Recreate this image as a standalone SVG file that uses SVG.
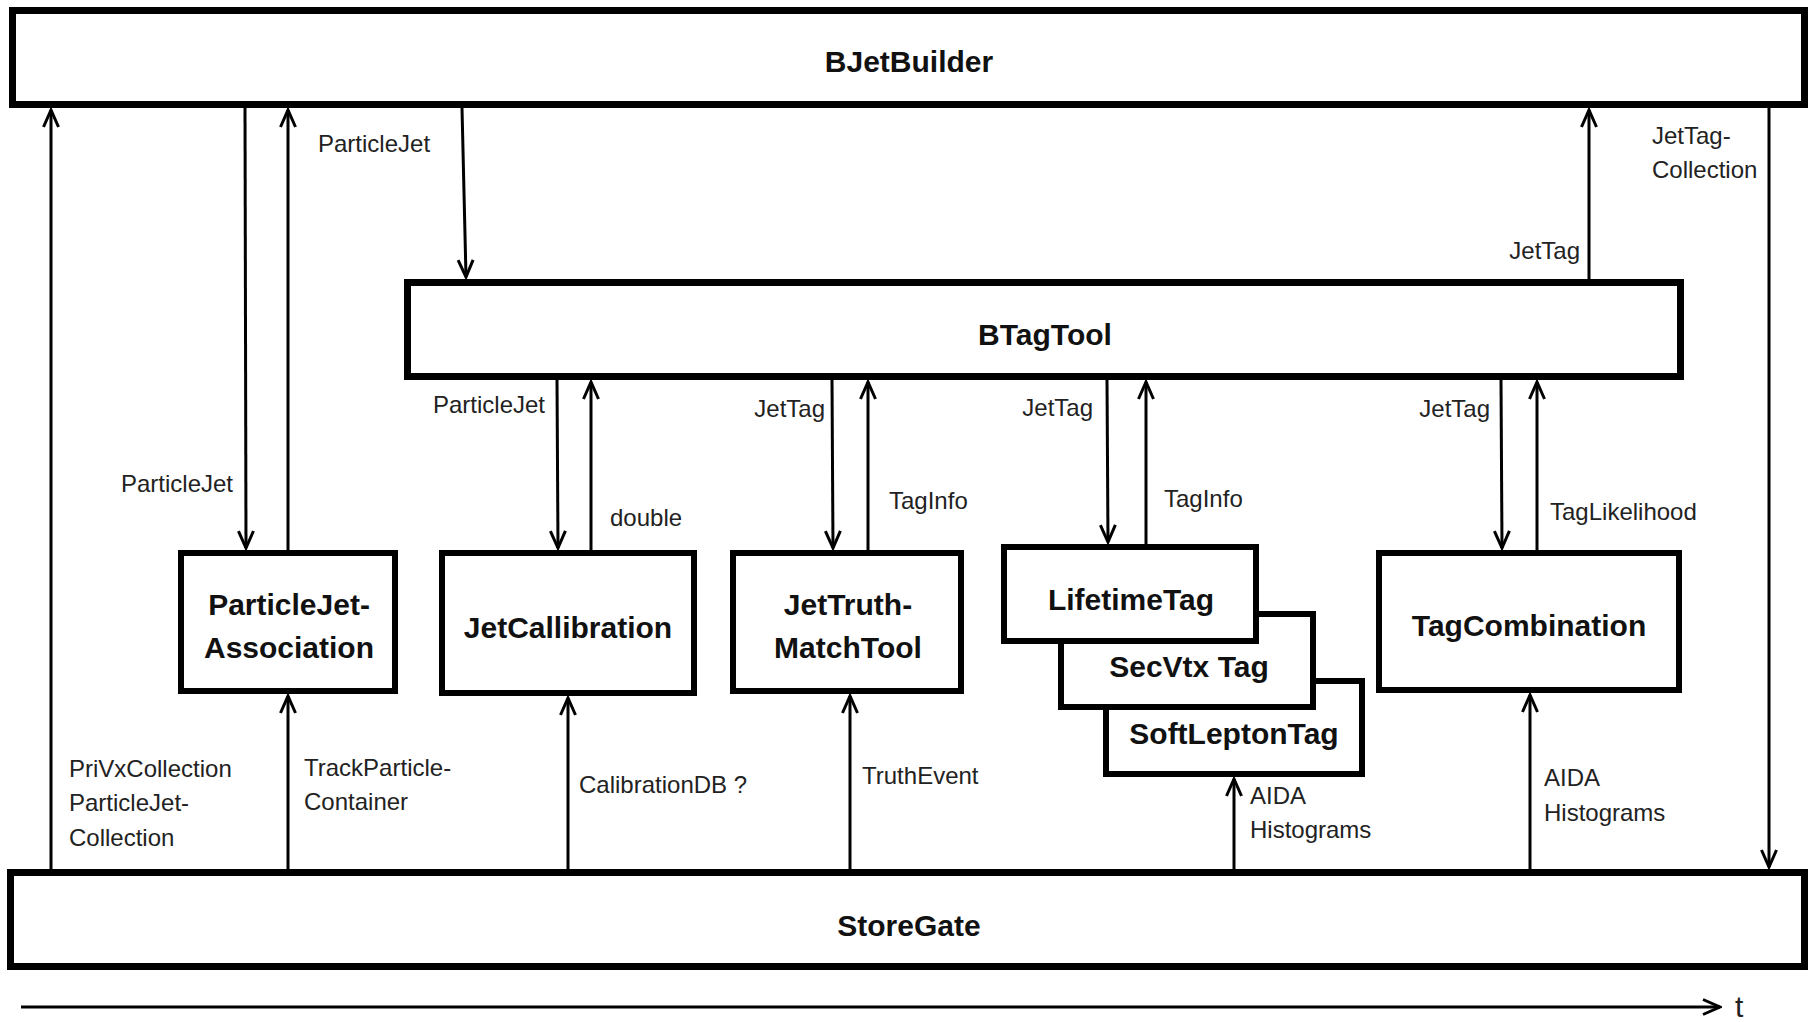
<svg xmlns="http://www.w3.org/2000/svg" width="1815" height="1022" viewBox="0 0 1815 1022">
  <style>
    .box { fill: #fff; stroke: #000; stroke-width: 7; }
    .sbox { fill: #fff; stroke: #000; stroke-width: 6; }
    .title { font-family: "Liberation Sans", Arial, sans-serif; font-weight: bold; font-size: 30px; fill: #111; text-anchor: middle; }
    .lbl { font-family: "Liberation Sans", Arial, sans-serif; font-size: 24px; fill: #222; }
    .end { text-anchor: end; }
    .wire { stroke: #000; stroke-width: 3; fill: none; }
    .up, .down { marker-end: url(#head); }
  </style>
  <defs>
    <marker id="head" markerUnits="userSpaceOnUse" viewBox="-20 -10 22 20" markerWidth="22" markerHeight="20" refX="0" refY="0" orient="auto">
      <path d="M -17 -7.5 L 0 0 L -17 7.5" fill="none" stroke="#000" stroke-width="3" stroke-linejoin="miter"/>
    </marker>
  </defs>
  <rect width="1815" height="1022" fill="#fff"/>

  <!-- connectors -->
  <g id="connectors">
    <!-- StoreGate -> BJetBuilder -->
    <line class="wire up" x1="51" y1="869" x2="51" y2="110"/>
    <text class="lbl" x="69" y="777">PriVxCollection</text>
    <text class="lbl" x="69" y="811">ParticleJet-</text>
    <text class="lbl" x="69" y="846">Collection</text>

    <!-- BJetBuilder <-> ParticleJet-Association -->
    <line class="wire down" x1="245" y1="108" x2="246" y2="548"/>
    <text class="lbl end" x="233" y="492">ParticleJet</text>
    <line class="wire up" x1="288" y1="550" x2="288" y2="110"/>
    <text class="lbl" x="318" y="152">ParticleJet</text>

    <!-- BJetBuilder -> BTagTool -->
    <line class="wire down" x1="462" y1="108" x2="466" y2="277"/>

    <!-- BTagTool -> BJetBuilder -->
    <line class="wire up" x1="1589" y1="279" x2="1589" y2="110"/>
    <text class="lbl end" x="1580" y="259">JetTag</text>

    <!-- BJetBuilder -> StoreGate -->
    <line class="wire down" x1="1769" y1="108" x2="1769" y2="867"/>
    <text class="lbl" x="1652" y="144">JetTag-</text>
    <text class="lbl" x="1652" y="178">Collection</text>

    <!-- StoreGate -> ParticleJet-Association -->
    <line class="wire up" x1="288" y1="869" x2="288" y2="696"/>
    <text class="lbl" x="304" y="776">TrackParticle-</text>
    <text class="lbl" x="304" y="810">Container</text>

    <!-- BTagTool <-> JetCallibration -->
    <line class="wire down" x1="557" y1="380" x2="558" y2="548"/>
    <text class="lbl end" x="545" y="413">ParticleJet</text>
    <line class="wire up" x1="591" y1="550" x2="591" y2="382"/>
    <text class="lbl" x="610" y="526">double</text>

    <!-- StoreGate -> JetCallibration -->
    <line class="wire up" x1="568" y1="869" x2="568" y2="698"/>
    <text class="lbl" x="579" y="793">CalibrationDB ?</text>

    <!-- BTagTool <-> JetTruth-MatchTool -->
    <line class="wire down" x1="832" y1="380" x2="833" y2="548"/>
    <text class="lbl end" x="825" y="417">JetTag</text>
    <line class="wire up" x1="868" y1="550" x2="868" y2="382"/>
    <text class="lbl" x="889" y="509">TagInfo</text>

    <!-- StoreGate -> JetTruth-MatchTool -->
    <line class="wire up" x1="850" y1="869" x2="850" y2="696"/>
    <text class="lbl" x="862" y="784">TruthEvent</text>

    <!-- BTagTool <-> LifetimeTag -->
    <line class="wire down" x1="1107" y1="380" x2="1108" y2="542"/>
    <text class="lbl end" x="1093" y="416">JetTag</text>
    <line class="wire up" x1="1146" y1="544" x2="1146" y2="382"/>
    <text class="lbl" x="1164" y="507">TagInfo</text>

    <!-- StoreGate -> SoftLeptonTag -->
    <line class="wire up" x1="1234" y1="869" x2="1234" y2="779"/>
    <text class="lbl" x="1250" y="804">AIDA</text>
    <text class="lbl" x="1250" y="838">Histograms</text>

    <!-- BTagTool <-> TagCombination -->
    <line class="wire down" x1="1501" y1="380" x2="1502" y2="548"/>
    <text class="lbl end" x="1490" y="417">JetTag</text>
    <line class="wire up" x1="1537" y1="550" x2="1537" y2="382"/>
    <text class="lbl" x="1550" y="520">TagLikelihood</text>

    <!-- StoreGate -> TagCombination -->
    <line class="wire up" x1="1530" y1="869" x2="1530" y2="695"/>
    <text class="lbl" x="1544" y="786">AIDA</text>
    <text class="lbl" x="1544" y="821">Histograms</text>

    <!-- time axis -->
    <line class="wire" x1="21" y1="1007" x2="1720" y2="1007" marker-end="url(#head)"/>
    <text class="lbl" x="1735" y="1017" style="font-size:30px">t</text>
  </g>

  <g id="bjetbuilder">
    <rect class="box" x="12.5" y="10.5" width="1792" height="94"/>
    <text class="title" x="909" y="72">BJetBuilder</text>
  </g>

  <g id="btagtool">
    <rect class="box" x="407.5" y="282.5" width="1273" height="94"/>
    <text class="title" x="1045" y="345">BTagTool</text>
  </g>

  <g id="particlejet-association">
    <rect class="sbox" x="181" y="553" width="214" height="138"/>
    <text class="title" x="289" y="615">ParticleJet-</text>
    <text class="title" x="289" y="658">Association</text>
  </g>

  <g id="jetcallibration">
    <rect class="sbox" x="442" y="553" width="252" height="140"/>
    <text class="title" x="568" y="638">JetCallibration</text>
  </g>

  <g id="jettruth-matchtool">
    <rect class="sbox" x="733" y="553" width="228" height="138"/>
    <text class="title" x="848" y="615">JetTruth-</text>
    <text class="title" x="848" y="658">MatchTool</text>
  </g>

  <g id="softleptontag">
    <rect class="sbox" x="1106" y="681" width="256" height="93"/>
    <text class="title" x="1234" y="744">SoftLeptonTag</text>
  </g>

  <g id="secvtxtag">
    <rect class="sbox" x="1061" y="614" width="252" height="93"/>
    <text class="title" x="1189" y="677">SecVtx Tag</text>
  </g>

  <g id="lifetimetag">
    <rect class="sbox" x="1004" y="547" width="252" height="94"/>
    <text class="title" x="1131" y="610">LifetimeTag</text>
  </g>

  <g id="tagcombination">
    <rect class="sbox" x="1379" y="553" width="300" height="137"/>
    <text class="title" x="1529" y="636">TagCombination</text>
  </g>

  <g id="storegate">
    <rect class="box" x="10.5" y="872.5" width="1794" height="94"/>
    <text class="title" x="909" y="936">StoreGate</text>
  </g>
</svg>
